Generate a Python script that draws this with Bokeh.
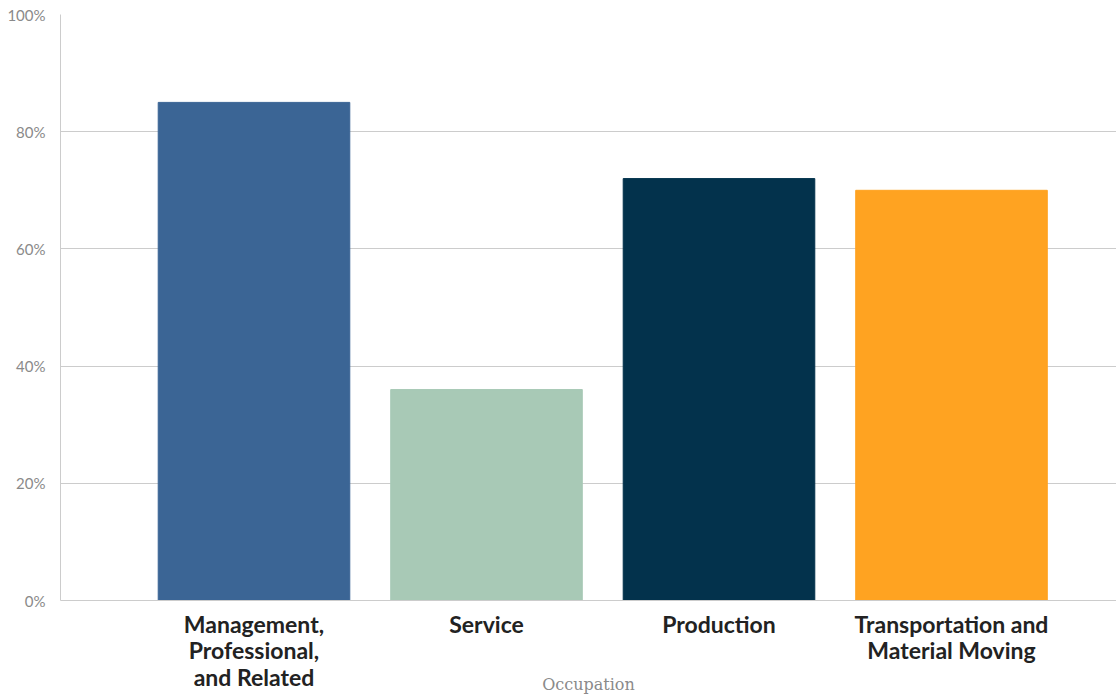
from bokeh.plotting import figure
from bokeh.models import ColumnDataSource, Range1d, FixedTicker
from bokeh.embed import file_html
from bokeh.resources import INLINE

categories = ["Management,\nProfessional,\nand Related", "Service", "Production", "Transportation and\nMaterial Moving"]
values = [85, 36, 72, 70]
colors = ["#3b6595", "#a8c9b6", "#03324c", "#ffa321"]
y_ticks = [0, 20, 40, 60, 80, 100]
positions = [0, 1, 2, 3]

src = ColumnDataSource(dict(x=positions, top=values, color=colors))

p = figure(width=1116, height=696, output_backend="svg", toolbar_location=None,
           x_range=Range1d(-0.8323, 3.7097), y_range=Range1d(0, 100),
           min_border_left=60, min_border_right=0, min_border_top=14, min_border_bottom=0)
p.outline_line_color = None
p.vbar(x="x", top="top", width=0.824, color="color", source=src)

p.xgrid.visible = False
p.ygrid.grid_line_color = "#cccccc"
p.ygrid.grid_line_width = 1
p.yaxis.ticker = FixedTicker(ticks=y_ticks)
p.yaxis.major_label_overrides = {t: f"{t}%" for t in y_ticks}
p.yaxis.axis_line_color = "#cccccc"
p.yaxis.major_tick_line_color = None
p.yaxis.minor_tick_line_color = None
p.yaxis.major_label_text_color = "#8a8a8a"
p.yaxis.major_label_text_font = "Lato"
p.yaxis.major_label_text_font_size = "15px"
p.yaxis.major_label_standoff = 9

p.xaxis.ticker = FixedTicker(ticks=positions)
p.xaxis.major_label_overrides = {x: c for x, c in zip(positions, categories)}
p.xaxis.axis_line_color = "#cccccc"
p.xaxis.major_tick_line_color = None
p.xaxis.minor_tick_line_color = None
p.xaxis.major_label_text_font = "Lato"
p.xaxis.major_label_text_font_style = "bold"
p.xaxis.major_label_text_font_size = "23px"
p.xaxis.major_label_text_color = "#222222"
p.xaxis.major_label_text_line_height = 0.95
p.xaxis.major_label_standoff = 3
p.xaxis.axis_label = "Occupation"
p.xaxis.axis_label_text_font = "DejaVu Serif"
p.xaxis.axis_label_text_font_style = "normal"
p.xaxis.axis_label_text_font_size = "16px"
p.xaxis.axis_label_text_color = "#8a8a8a"
p.xaxis.axis_label_standoff = -19

open("out.html", "w").write(file_html(p, INLINE))
